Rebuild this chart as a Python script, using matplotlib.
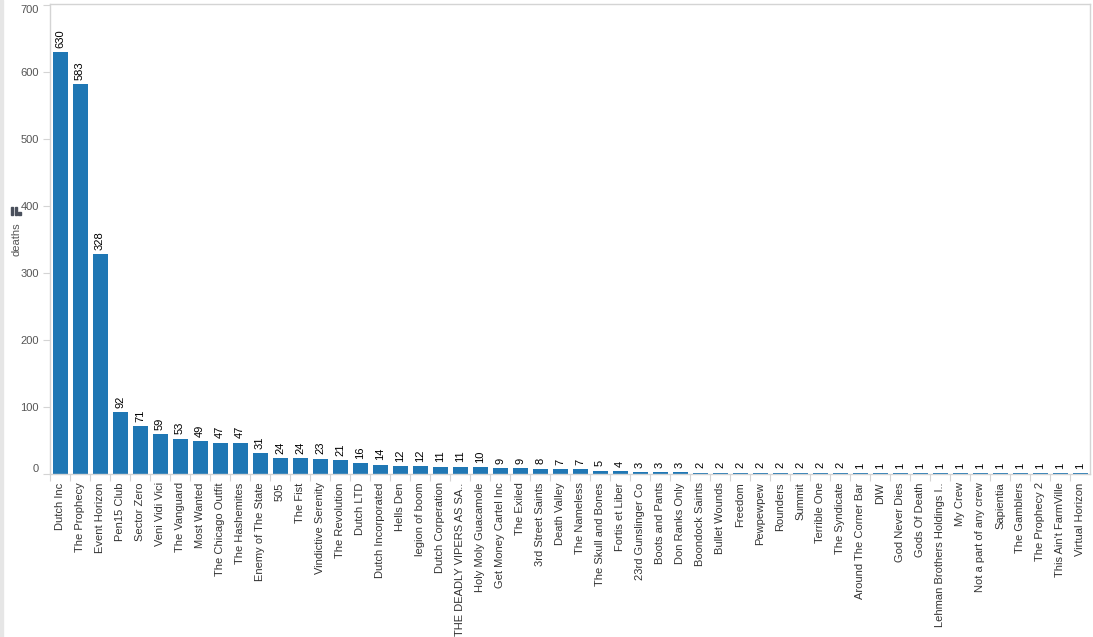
import matplotlib
matplotlib.use("Agg")
import matplotlib.pyplot as plt
from matplotlib.patches import Rectangle

# crew names and death counts
crews = [
    "Dutch Inc", "The Prophecy", "Event Horizon", "Pen15 Club", "Sector Zero",
    "Veni Vidi Vici", "The Vanguard", "Most Wanted", "The Chicago Outfit",
    "The Hashemites", "Enemy of The State", "505", "The Fist",
    "Vindictive Serenity", "The Revolution", "Dutch LTD", "Dutch Incorporated",
    "Hells Den", "legion of boom", "Dutch Corperation",
    "THE DEADLY VIPERS AS SA..", "Holy Moly Guacamole", "Get Money Cartel Inc",
    "The Exiled", "3rd Street Saints", "Death Valley", "The Nameless",
    "The Skull and Bones", "Fortis et Liber", "23rd Gunslinger Co",
    "Boots and Pants", "Don Ranks Only", "Boondock Saints", "Bullet Wounds",
    "Freedom", "Pewpewpew", "Rounders", "Summit", "Terrible One",
    "The Syndicate", "Around The Corner Bar", "DIW", "God Never Dies",
    "Gods Of Death", "Lehman Brothers Holdings I..", "My Crew",
    "Not a part of any crew", "Sapientia", "The Gamblers", "The Prophecy 2",
    "This Ain't FarmVille", "Virtual Horizon",
]
deaths = [
    630, 583, 328, 92, 71, 59, 53, 49, 47, 47, 31, 24, 24, 23, 21, 16, 14,
    12, 12, 11, 11, 10, 9, 9, 8, 7, 7, 5, 4, 3, 3, 3, 2, 2, 2, 2, 2, 2, 2, 2,
    1, 1, 1, 1, 1, 1, 1, 1, 1, 1, 1, 1,
]
yticks = [0, 100, 200, 300, 400, 500, 600, 700]

plt.rcParams["font.family"] = ["Liberation Sans", "DejaVu Sans"]

BLUE = "#1f77b4"
GRID = "#d4d4d4"
TXT = "#555555"

W, H = 1093, 637
fig = plt.figure(figsize=(W / 100, H / 100), dpi=100)
ax = fig.add_axes([50 / W, (H - 474) / H, 1040 / W, 470 / H])

x = list(range(len(crews)))
ax.bar(x, deaths, width=0.75, color=BLUE, zorder=2)

for xi, d in zip(x, deaths):
    ax.annotate(str(d), (xi, d), xytext=(0, 3), textcoords="offset points",
                rotation=90, ha="center", va="bottom", fontsize=8, color="black")

ax.set_xlim(-0.5, len(crews) - 0.5)
ax.set_ylim(0, 702)

ax.set_yticks(yticks)
ax.set_yticklabels([str(t) for t in yticks], fontsize=8, color=TXT)
ax.tick_params(axis="y", length=5, width=0.8, color=GRID, pad=3)
# tableau keeps the end labels inside the axis range
ylabels = ax.get_yticklabels()
ylabels[0].set_va("bottom")
ylabels[-1].set_va("top")

ax.set_xticks(x)
ax.set_xticklabels(crews, rotation=90, fontsize=8, color="#333333")
ax.tick_params(axis="x", length=0, pad=6)
# tick marks between categories
ax.set_xticks([i + 0.5 for i in x[:-1]] + [-0.5], minor=True)
ax.tick_params(axis="x", which="minor", length=5, width=0.8, color=GRID)

for side in ["top", "right", "left", "bottom"]:
    ax.spines[side].set_color(GRID)
    ax.spines[side].set_linewidth(1.0)

ax.set_ylabel("deaths", fontsize=8, color=TXT)
ax.yaxis.set_label_coords(-0.027, 0.5)

# thin grey strip along the left edge and the little bar-chart icon
fig.patches.append(Rectangle((0, 0), 3 / W, 1, transform=fig.transFigure,
                             color="#e6e6e6", zorder=0))
for bx, bh in [(11, 8), (14.5, 8), (18.3, 3)]:
    fig.patches.append(Rectangle((bx / W, (H - 215) / H), 2.4 / W, bh / H,
                                 transform=fig.transFigure, color="#4a505c"))

fig.savefig("out.png", dpi=100)
